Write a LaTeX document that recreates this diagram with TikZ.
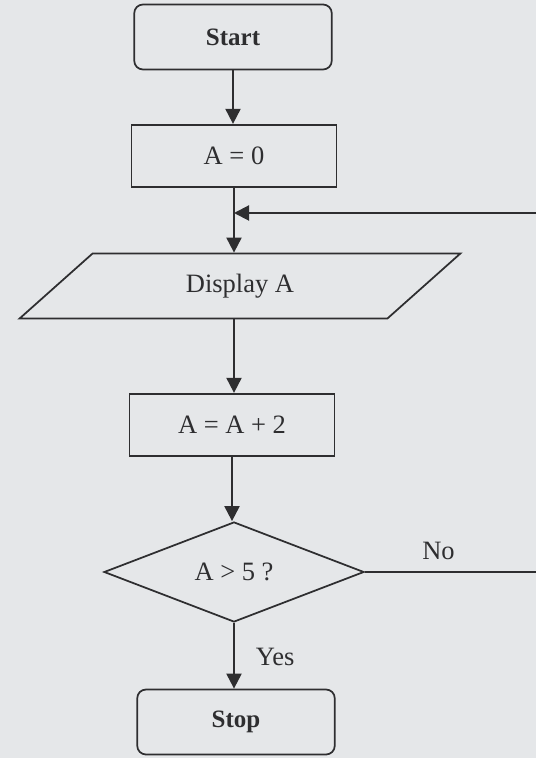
\documentclass[tikz,border=0pt]{standalone}
\usepackage{fontspec}
\setmainfont{Liberation Serif}
\usetikzlibrary{shapes.geometric, positioning, arrows.meta}

\definecolor{paper}{HTML}{E5E7E9}
\definecolor{ink}{HTML}{2E2E30}

\tikzset{
  terminal/.style={draw=ink, line width=0.7pt, rounded corners=3.5pt, minimum width=79pt, minimum height=26pt, font=\bfseries},
  process/.style={draw=ink, line width=0.7pt, minimum width=82pt, minimum height=25pt},
  io/.style={draw=ink, line width=0.7pt, trapezium, trapezium left angle=42, trapezium right angle=138, trapezium stretches=true, minimum width=177pt, minimum height=26pt, inner sep=0pt},
  decision/.style={draw=ink, line width=0.7pt, diamond, minimum width=104pt, minimum height=40pt, inner sep=0pt},
  flow/.style={draw=ink, line width=0.8pt}
}

\begin{document}
\begin{tikzpicture}[x=0.4pt, y=-0.4pt, >={Triangle[length=6pt,width=6pt]}, font=\fontsize{10.6}{12}\selectfont, text=ink]

    % --- Paper and frame ---
    \fill[paper] (0,0) rectangle (536,758);
    \useasboundingbox (0,0) rectangle (536,758);

    % --- Boxes, top to bottom ---
    \node[terminal] (start) at (233,37) {Start};
    \node[process] (init) at (234,156) {A = 0};
    \node[io] (disp) at (240,286) {Display A};
    \node[process] (add) at (232,425) {A = A + 2};
    \node[decision] (test) at (234,572) {A > 5 ?};
    \node[terminal] (stop) at (236,722) {Stop};

    % --- Loose ends at the right edge ---
    \coordinate (loopin) at (536,213);
    \coordinate (noout) at (536,572);

    % --- Main line ---
    \draw[flow, ->] (start) -- (start |- init.north);
    \draw[flow, ->] (init.south) -- (init.south |- disp.north);
    \draw[flow, ->] (init.south |- disp.south) -- (init.south |- add.north);
    \draw[flow, ->] (add) -- (add |- test.north);
    \draw[flow, ->] (test.south) -- (test.south |- stop.north)
        node[pos=0.52, right=5pt] {Yes};

    % --- Loop back ---
    \draw[flow] (test.east) -- (noout) node[pos=0.43, above=1pt] {No};
    \draw[flow, ->] (loopin) -- (loopin -| init.south);

\end{tikzpicture}
\end{document}
